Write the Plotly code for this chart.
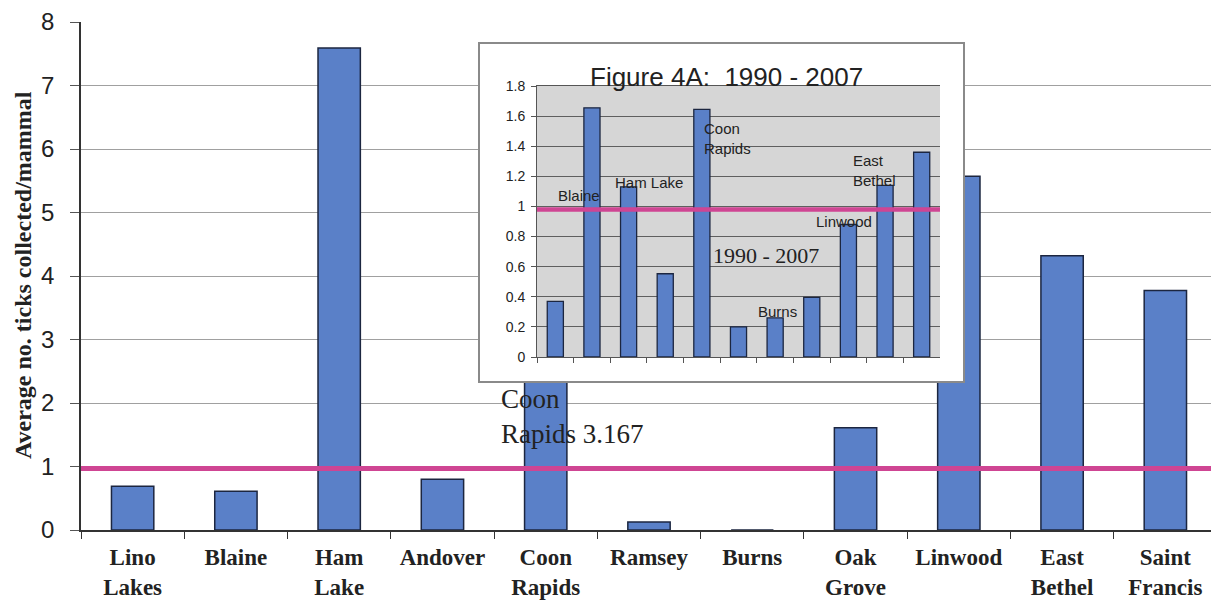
import plotly.graph_objects as go

# ---------------- data ----------------
categories = ["Lino<br>Lakes", "Blaine", "Ham<br>Lake", "Andover", "Coon<br>Rapids",
              "Ramsey", "Burns", "Oak<br>Grove", "Linwood", "East<br>Bethel", "Saint<br>Francis"]
main_values = [0.69, 0.61, 7.59, 0.80, 3.167, 0.125, 0.0, 1.61, 5.57, 4.32, 3.77]
inset_values = [0.37, 1.655, 1.13, 0.553, 1.645, 0.20, 0.26, 0.396, 0.88, 1.14, 1.36]
main_threshold = 0.97
inset_threshold = 0.98
main_yrange = [0, 8]
inset_yrange = [0, 1.8]
inset_title = "Figure 4A:  1990 - 2007"
y_title = "Average no. ticks collected/mammal"

# ---------------- geometry (screen pixels; page has an 8px body margin) ----------------
OFF = 8
W, H = 1219 - OFF, 603 - OFF
PLOT_L, PLOT_R, PLOT_T, PLOT_B = 81, 1217, 22, 530
ML, MT = PLOT_L - OFF, PLOT_T - OFF
MR, MB = W - (PLOT_R - OFF), H - (PLOT_B - OFF)
PW, PH = PLOT_R - PLOT_L, PLOT_B - PLOT_T


def px_x(p):
    return (p - PLOT_L) / PW


def px_y(p):
    return (PLOT_B - p) / PH


BAR = "#5a80c8"
BAR_LINE = "#1c2640"
MAGENTA = "#cf4593"
TXT = "#222222"
SANS = "Liberation Sans, Arial, sans-serif"
SERIF = "Liberation Serif, Times New Roman, serif"

fig = go.Figure()

# main bars
fig.add_trace(go.Bar(x=categories, y=main_values, xaxis="x", yaxis="y", width=0.41,
                     marker=dict(color=BAR, line=dict(color=BAR_LINE, width=1.5)),
                     showlegend=False, hoverinfo="x+y"))

# white cover box for inset (empty subplot)
fig.add_trace(go.Scatter(x=[], y=[], xaxis="x2", yaxis="y2", showlegend=False,
                         hoverinfo="skip"))

# inset bars
fig.add_trace(go.Bar(x=categories, y=inset_values, xaxis="x3", yaxis="y3", width=0.44,
                     marker=dict(color=BAR, line=dict(color=BAR_LINE, width=1.3)),
                     showlegend=False, hoverinfo="y"))

fig.update_layout(
    width=W, height=H,
    margin=dict(l=ML, r=MR, t=MT, b=MB, autoexpand=False),
    paper_bgcolor="white", plot_bgcolor="white",
    xaxis=dict(domain=[0, 1], type="category", showline=True, linecolor="#333", linewidth=1.5,
               ticks="outside", tickson="boundaries", ticklen=7, tickcolor="#333",
               ticklabelstandoff=6, automargin=False,
               tickfont=dict(family=SERIF, size=23, color=TXT, weight="bold"),
               showgrid=False, fixedrange=True),
    yaxis=dict(domain=[0, 1], range=main_yrange, dtick=1, showgrid=True, gridcolor="#a0a0a0",
               gridwidth=1, showline=True, linecolor="#333", linewidth=1.5, ticks="outside",
               ticklen=9, tickcolor="#555", zeroline=False, ticklabelstandoff=11,
               ticklabeloverflow="allow", automargin=False,
               tickfont=dict(family=SANS, size=24, color=TXT), fixedrange=True),
    xaxis2=dict(domain=[px_x(480), px_x(963)], anchor="y2", range=[0, 1], showline=True,
                mirror=True, linecolor="#8a8a8a", linewidth=1.5, showgrid=False, zeroline=False,
                showticklabels=False, ticks="", fixedrange=True, automargin=False),
    yaxis2=dict(domain=[px_y(381), px_y(44)], anchor="x2", range=[0, 1], showline=True,
                mirror=True, linecolor="#8a8a8a", linewidth=1.5, showgrid=False, zeroline=False,
                showticklabels=False, ticks="", fixedrange=True, automargin=False),
    xaxis3=dict(domain=[px_x(537), px_x(940)], anchor="y3", type="category", showline=True,
                mirror=True, linecolor="#555", linewidth=1, ticks="outside", tickson="boundaries",
                ticklen=5, tickcolor="#555", showticklabels=False, showgrid=False,
                fixedrange=True, automargin=False),
    yaxis3=dict(domain=[px_y(357), px_y(86)], anchor="x3", range=inset_yrange, dtick=0.2,
                showgrid=True, gridcolor="#5f5f5f", gridwidth=1, showline=True, linecolor="#555",
                linewidth=1, ticks="outside", ticklen=5, tickcolor="#555", zeroline=False,
                ticklabelstandoff=3, ticklabeloverflow="allow", automargin=False,
                tickfont=dict(family=SANS, size=14, color=TXT), fixedrange=True),
)

n = len(categories)
shapes = [
    # inset grey plot area
    dict(type="rect", xref="x3", yref="y3", x0=-0.5, x1=n - 0.5,
         y0=inset_yrange[0], y1=inset_yrange[1], fillcolor="#d6d6d6",
         line=dict(width=0), layer="below"),
    # main plot right border
    dict(type="line", xref="x domain", yref="y domain", x0=1, x1=1, y0=0, y1=1,
         line=dict(color="#999", width=1.5), layer="above"),
    # threshold lines
    dict(type="line", xref="x domain", yref="y", x0=0, x1=1.002, y0=main_threshold,
         y1=main_threshold, line=dict(color=MAGENTA, width=5), layer="above"),
    dict(type="line", xref="x3 domain", yref="y3", x0=0, x1=1, y0=inset_threshold,
         y1=inset_threshold, line=dict(color=MAGENTA, width=4.5), layer="above"),
]
fig.update_layout(shapes=shapes)

annotations = [
    dict(text=y_title, xref="paper", yref="paper", x=px_x(23), y=px_y(275), textangle=-90,
         xanchor="center", yanchor="middle",
         showarrow=False, font=dict(family=SERIF, size=24, color=TXT, weight="bold")),
    dict(text="Coon<br>Rapids 3.167", xref="x", yref="y", x=3.55, y=1.78, xanchor="left",
         align="left", showarrow=False, font=dict(family=SERIF, size=27, color=TXT)),
    dict(text=inset_title, xref="paper", yref="paper", x=px_x(726), y=px_y(77),
         xanchor="center", yanchor="middle",
         showarrow=False, font=dict(family=SANS, size=26, color=TXT)),
    dict(text="Blaine", xref="x3", yref="y3", x=0.02, y=1.07, xanchor="left",
         showarrow=False, font=dict(family=SANS, size=15, color=TXT)),
    dict(text="Ham Lake", xref="x3", yref="y3", x=1.58, y=1.16, xanchor="left",
         showarrow=False, font=dict(family=SANS, size=15, color=TXT)),
    dict(text="Coon<br>Rapids", xref="x3", yref="y3", x=4.0, y=1.45, xanchor="left",
         align="left", showarrow=False, font=dict(family=SANS, size=15, color=TXT)),
    dict(text="East<br>Bethel", xref="x3", yref="y3", x=8.08, y=1.24, xanchor="left",
         align="left", showarrow=False, font=dict(family=SANS, size=15, color=TXT)),
    dict(text="Linwood", xref="x3", yref="y3", x=7.07, y=0.90, xanchor="left",
         showarrow=False, font=dict(family=SANS, size=15, color=TXT)),
    dict(text="Burns", xref="x3", yref="y3", x=5.48, y=0.30, xanchor="left",
         showarrow=False, font=dict(family=SANS, size=15, color=TXT)),
    dict(text="1990 - 2007", xref="x3", yref="y3", x=4.25, y=0.675, xanchor="left",
         showarrow=False, font=dict(family=SERIF, size=22, color=TXT)),
]
fig.update_layout(annotations=annotations)

fig.write_html("out.html")
